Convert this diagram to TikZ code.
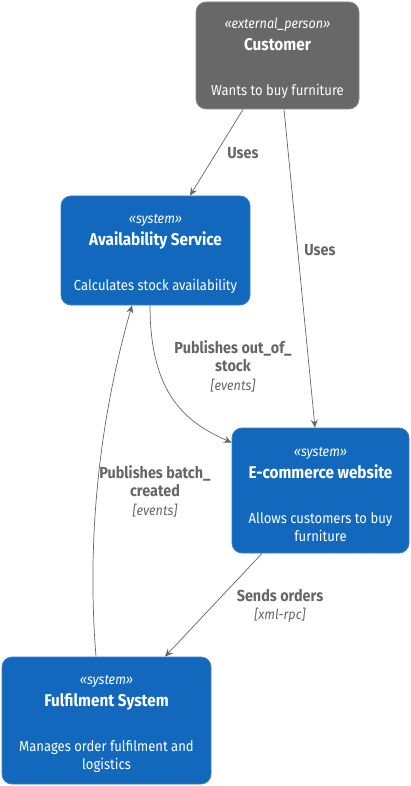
\documentclass[tikz,border=0pt]{standalone}
\usepackage{fontspec}
\setmainfont{Fira Sans}[FakeStretch=0.9]
\usetikzlibrary{arrows.meta,positioning}
\definecolor{sysblue}{HTML}{1168BD}
\definecolor{sysline}{HTML}{3C7FC0}
\definecolor{extgray}{HTML}{686868}
\definecolor{extline}{HTML}{8A8A8A}
\definecolor{relgray}{HTML}{666666}
\def\stereo#1{\rule{0pt}{17pt}{\itshape\fontsize{14}{18}\selectfont «#1»}\\[4pt]}
\def\boxtitle#1{{\bfseries\fontsize{17}{18}\selectfont #1}\\[27pt]}
\begin{document}
\begin{tikzpicture}[x=1pt,y=-1pt,
    every node/.style={font=\fontsize{14.5}{18}\selectfont},
    sysbox/.style={draw=sysline,fill=sysblue,text=white,rounded corners=10pt,align=center,line width=0.8pt},
    extbox/.style={sysbox,draw=extline,fill=extgray},
    rel/.style={draw=relgray,line width=0.7pt,-{Stealth[length=8pt,width=7pt,inset=3pt]}},
    rellabel/.style={text=relgray,align=center,font=\bfseries\fontsize{16}{19.5}\selectfont}]
  \useasboundingbox (0,0) rectangle (411,786);
  % systems
  \node[extbox,minimum width=163pt,minimum height=107pt] (customer) at (277.5,55.5)
      {\stereo{external\_person}\boxtitle{Customer}Wants to buy furniture};
  \node[sysbox,minimum width=189pt,minimum height=109pt] (avail) at (155.5,250.5)
      {\stereo{system}\boxtitle{Availability Service}Calculates stock availability};
  \node[sysbox,minimum width=177pt,minimum height=125pt] (ecom) at (320.5,490.5)
      {\stereo{system}\boxtitle{E-commerce website}Allows customers to buy\\furniture};
  \node[sysbox,minimum width=209pt,minimum height=127pt] (fulfil) at (106.5,720.5)
      {\stereo{system}\boxtitle{Fulfilment System}Manages order fulfilment and\\logistics};
  % relations
  \draw[rel] ([xshift=-34.5pt]customer.south) -- ([xshift=34.5pt]avail.north);
  \draw[rel] ([xshift=6.5pt]customer.south) -- ([xshift=-5.5pt]ecom.north);
  \draw[rel] ([xshift=-5.5pt]avail.south) .. controls +(0,90) and +(-45,-20) .. ([yshift=-15pt]ecom.north west);
  \draw[rel] ([xshift=-10.5pt]fulfil.north) .. controls +(-11,-136) and +(-27,94) .. ([xshift=-23.5pt]avail.south);
  \draw[rel] ([xshift=-58.5pt]ecom.south) -- ([xshift=58.5pt]fulfil.north);
  % labels
  \node[rellabel] (uses1) at (243,153) {Uses};
  \node[rellabel] (uses2) at (320,250) {Uses};
  \node[rellabel] (outstock) at (233,366) {Publishes out\_of\_\\[-1pt]stock\\[-1pt]{\mdseries\itshape\fontsize{14}{18}\selectfont [events]}};
  \node[rellabel] (batch) at (155,491) {Publishes batch\_\\[-1pt]created\\[-1pt]{\mdseries\itshape\fontsize{14}{18}\selectfont [events]}};
  \node[rellabel] (orders) at (280,606) {Sends orders\\[-1pt]{\mdseries\itshape\fontsize{14}{18}\selectfont [xml-rpc]}};
\end{tikzpicture}
\end{document}
